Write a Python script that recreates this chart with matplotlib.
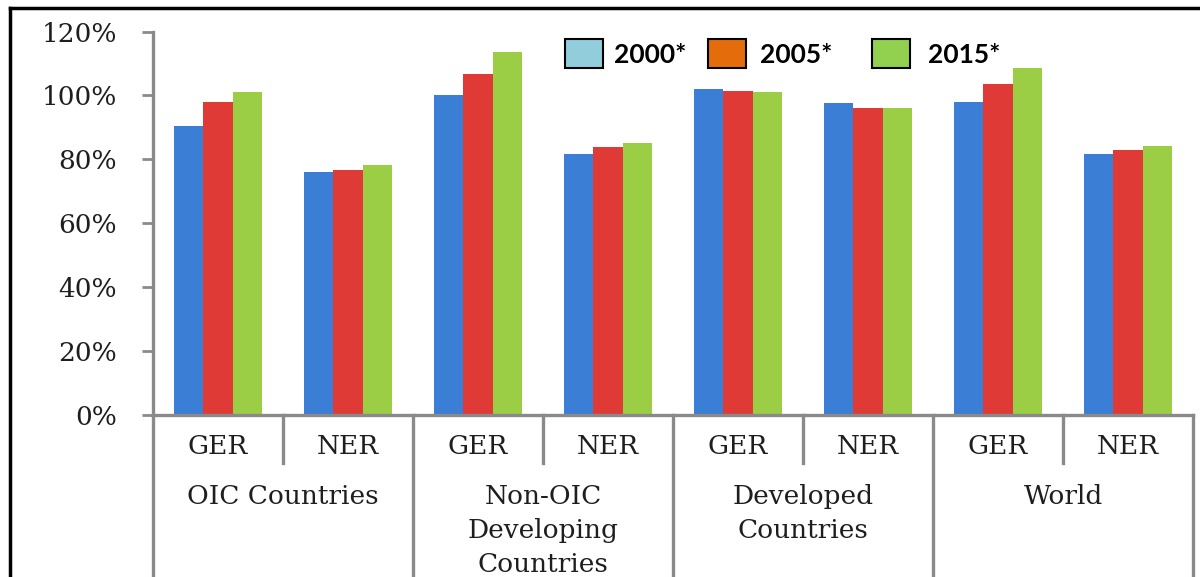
import matplotlib
matplotlib.use("Agg")
import matplotlib.pyplot as plt
from matplotlib.patches import Rectangle
from matplotlib.lines import Line2D
from matplotlib.transforms import blended_transform_factory
import numpy as np

# ---- data ----
sub_labels = ["GER", "NER", "GER", "NER", "GER", "NER", "GER", "NER"]
group_labels = ["OIC Countries", "Non-OIC\nDeveloping\nCountries", "Developed\nCountries", "World"]
series_names = ["2000*", "2005*", "2015*"]
v2000 = [90.3, 76.0, 100.2, 81.6, 102.1, 97.6, 98.0, 81.6]
v2005 = [97.9, 76.8, 106.6, 83.8, 101.3, 96.0, 103.6, 82.8]
v2015 = [101.2, 78.1, 113.5, 85.1, 101.1, 96.0, 108.6, 84.1]
yticks = [0, 20, 40, 60, 80, 100, 120]

bar_colors = ["#3A7ED5", "#DF3A36", "#9BCE45"]
legend_colors = ["#92CDDC", "#E46C0A", "#92D050"]
gray = "#8A8A8A"
txt = "#1E1E1E"
serif = "DejaVu Serif"
fs = 19

W, H = 1200, 577
fig = plt.figure(figsize=(12, 5.77), dpi=100)
fig.patch.set_facecolor("white")

def fx(px):
    return px / W

def fy(py):
    return 1 - py / H

ax = fig.add_axes([fx(153), fy(415), fx(1193) - fx(153), fy(31.5) - fy(415)])

x = np.arange(len(sub_labels)) + 0.5
bw = 0.225
for i, vals in enumerate([v2000, v2005, v2015]):
    ax.bar(x + (i - 1) * bw, vals, width=bw, color=bar_colors[i], zorder=2)

ax.set_xlim(0, len(sub_labels))
ax.set_ylim(0, 120)
ax.set_yticks(yticks)
ax.set_yticklabels([f"{t}%" for t in yticks], fontsize=fs, family=serif, color=txt)
ax.set_xticks([])
for s in ["top", "right"]:
    ax.spines[s].set_visible(False)
for s in ["left", "bottom"]:
    ax.spines[s].set_color(gray)
    ax.spines[s].set_linewidth(2.4)
ax.tick_params(axis="y", length=8, width=2, color=gray, pad=18)

# separators under axis
tr = blended_transform_factory(ax.transData, fig.transFigure)
for k in range(0, len(sub_labels) + 1, 2):
    ax.add_line(Line2D([k, k], [fy(415), 0], transform=tr, color=gray, lw=2.4, clip_on=False))
for k in range(1, len(sub_labels), 2):
    ax.add_line(Line2D([k, k], [fy(415), fy(463)], transform=tr, color=gray, lw=2.4, clip_on=False))

for i, lab in enumerate(sub_labels):
    ax.text(x[i], fy(447), lab, transform=tr, ha="center", va="center",
            fontsize=fs, family=serif, color=txt)
for g, lab in enumerate(group_labels):
    ax.text(2 * g + 1, fy(484), lab, transform=tr, ha="center", va="top",
            fontsize=fs, family=serif, color=txt, linespacing=1.45)

# legend
leg_patch_x = [565, 708, 872]
leg_text_x = [614, 760, 928]
for i in range(3):
    fig.patches.append(Rectangle((fx(leg_patch_x[i]), fy(68)), fx(38), fy(39) - fy(68),
                                 transform=fig.transFigure, facecolor=legend_colors[i],
                                 edgecolor="black", lw=1.5))
    fig.text(fx(leg_text_x[i]), fy(55), series_names[i], ha="left", va="center",
             fontsize=19, fontweight="bold", family="Lato", color="black")

# outer border
fig.add_artist(Line2D([fx(10), 1], [fy(8), fy(8)], transform=fig.transFigure, color="black", lw=2.5))
fig.add_artist(Line2D([fx(10), fx(10)], [fy(8), 0], transform=fig.transFigure, color="black", lw=2.5))

fig.savefig("out.png", dpi=100)
